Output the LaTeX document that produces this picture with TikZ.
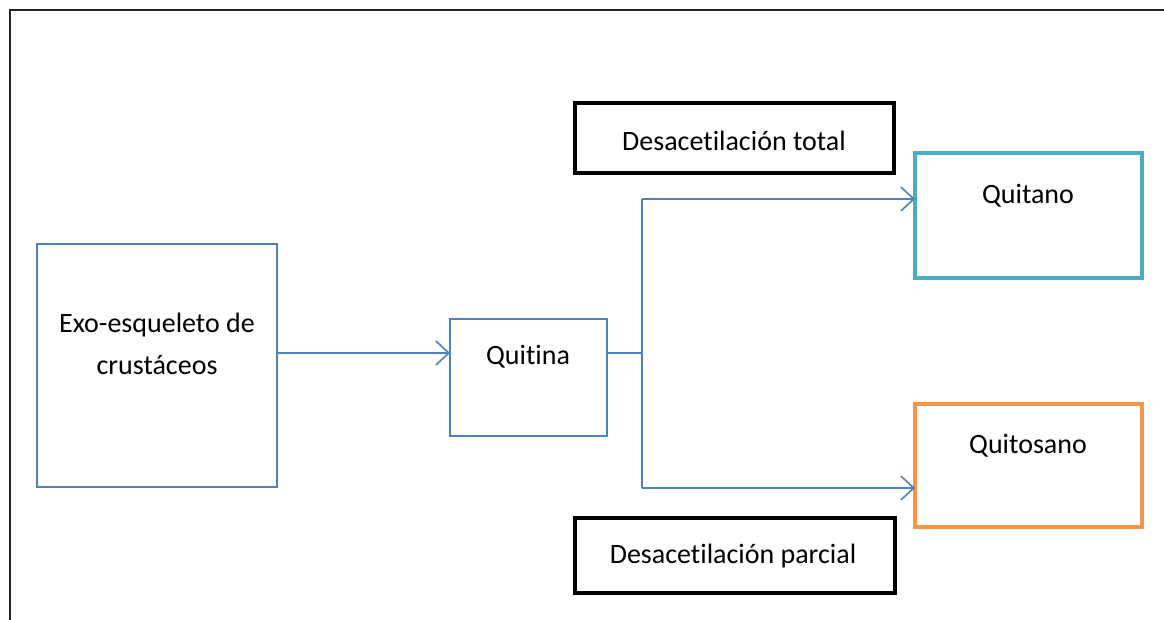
\documentclass[tikz,border=0pt]{standalone}
\usepackage{fontspec}
\setmainfont[Ligatures=NoCommon]{Carlito}
\usetikzlibrary{arrows.meta,calc}
\definecolor{lineblue}{HTML}{4F81BD}
\definecolor{tealc}{HTML}{4BACC6}
\definecolor{orangec}{HTML}{F79646}
\begin{document}
\begin{tikzpicture}[x=1pt,y=-1pt,
  box/.style={draw, rectangle, inner sep=0pt, outer sep=0pt, fill=white},
  bluebox/.style={box, draw=lineblue, line width=1.6pt},
  tealbox/.style={box, draw=tealc, line width=3.4pt},
  orangebox/.style={box, draw=orangec, line width=3.4pt},
  blackbox/.style={box, draw=black, line width=3.8pt},
  txt/.style={inner sep=0pt, align=center, text=black, font=\fontsize{28}{42}\selectfont},
  conn/.style={draw=lineblue, line width=1.6pt},
  arr/.style={conn, -{Straight Barb[length=13pt,width=24pt]}}]
\useasboundingbox (0,0) rectangle (1164,620);
\fill[white] (0,0) rectangle (1164,620);
% frame
\coordinate (fbl) at (10,620);
\coordinate (ftl) at (10,10);
\coordinate (ftr) at (1164,10);
\draw[line width=2.2pt, black!85] (fbl) -- (ftl) -- (ftr);

% boxes
\node[bluebox, minimum width=240pt, minimum height=243pt] (exo) at (157,365.5) {};
\node[bluebox, minimum width=157pt, minimum height=117pt] (quitina) at (528.5,377.5) {};
\node[tealbox, minimum width=227pt, minimum height=125pt] (quitano) at (1028.5,215.5) {};
\node[orangebox, minimum width=227pt, minimum height=123pt] (quitosano) at (1028.5,465.5) {};
\node[blackbox, minimum width=319pt, minimum height=70pt] (dtotal) at (734.5,138) {};
\node[blackbox, minimum width=320pt, minimum height=75pt] (dparcial) at (735,555.5) {};

% texts
\node[txt] (exotxt) at (157,344) {Exo-esqueleto de\\crustáceos};
\node[txt] (quitinatxt) at (528,357) {Quitina};
\node[txt] (quitanotxt) at (1028,196) {Quitano};
\node[txt] (quitosanotxt) at (1028,446) {Quitosano};
\node[txt] (dtotaltxt) at (734,141) {Desacetilación total};
\node[txt] (dparcialtxt) at (733,556) {Desacetilación parcial};

% connectors
\coordinate (e1) at (exo.east |- 0,353);
\draw[arr] (e1) -- (e1 -| quitina.west);
\coordinate (q1) at (quitina.east |- 0,353);
\coordinate (j) at (642,353);
\coordinate (jt) at (642,199);
\coordinate (jb) at (642,488);
\draw[conn] (q1) -- (j);
\draw[conn] (jt) -- (jb);
\draw[arr] (jt) -- (jt -| quitano.west);
\draw[arr] (jb) -- (jb -| quitosano.west);
\end{tikzpicture}
\end{document}
